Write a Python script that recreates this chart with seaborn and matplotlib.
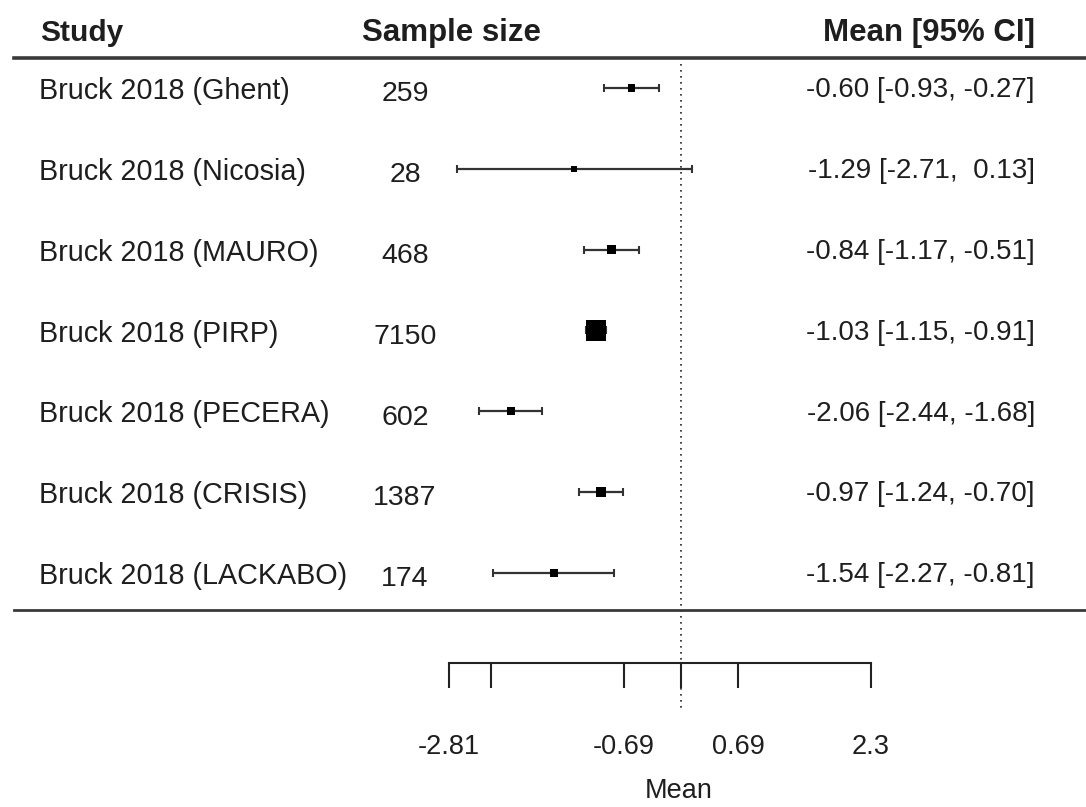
import numpy as np
import pandas as pd
import matplotlib
matplotlib.use("Agg")
import matplotlib.pyplot as plt
import matplotlib.transforms as mtrans
import seaborn as sns

# ---------------- data ----------------
studies = ["Bruck 2018 (Ghent)", "Bruck 2018 (Nicosia)", "Bruck 2018 (MAURO)",
           "Bruck 2018 (PIRP)", "Bruck 2018 (PECERA)", "Bruck 2018 (CRISIS)",
           "Bruck 2018 (LACKABO)"]
sample_size = [259, 28, 468, 7150, 602, 1387, 174]
mean = [-0.60, -1.29, -0.84, -1.03, -2.06, -0.97, -1.54]
ci_low = [-0.93, -2.71, -1.17, -1.15, -2.44, -1.24, -2.27]
ci_high = [-0.27, 0.13, -0.51, -0.91, -1.68, -0.70, -0.81]
weight = [12, 8, 16, 100, 16, 20, 16]      # relative box weight
tick_values = [-2.81, -2.3, -0.69, 0, 0.69, 2.3]
tick_labels = ["-2.81", "", "-0.69", "", "0.69", "2.3"]
headers = ["Study", "Sample size", "Mean [95% CI]"]

df = pd.DataFrame({"study": studies, "n": sample_size, "mean": mean,
                   "lo": ci_low, "hi": ci_high, "weight": weight})
df["row"] = np.arange(len(df))

# ---------------- figure ----------------
plt.rcParams["font.family"] = ["Liberation Sans", "DejaVu Sans"]
TXT = "#1e1e1e"
W, H = 1086, 807
fig = plt.figure(figsize=(W / 100, H / 100), dpi=100)
ax = fig.add_axes([0, 0, 1, 1])

# x: 82.6 px per unit, 0 at px 681 ; y: row i at px 88 + 80.8*i
ax.set_xlim(-681 / 82.6, (W - 681) / 82.6)
ax.set_ylim((H - 88) / 80.8, -88 / 80.8)

def r(py):
    return (py - 88) / 80.8

# reference line
ax.vlines(0, r(64), r(712), colors="#222222", linestyles=(0, (1, 2.6)), lw=1.2, zorder=1)

# confidence intervals
ax.errorbar(df["mean"], df["row"],
            xerr=[df["mean"] - df["lo"], df["hi"] - df["mean"]],
            fmt="none", ecolor="#333333", elinewidth=1.6, capsize=3.2, capthick=1.5, zorder=2)

# boxes
sns.scatterplot(data=df, x="mean", y="row", size="weight", sizes=(18, 225),
                size_norm=(8, 100), marker="s", color="black", linewidth=0,
                legend=False, ax=ax, zorder=3)

# rules
ax.axhline(r(58), xmin=14 / W, xmax=1, color="#3a3a3a", lw=2.6)
ax.axhline(r(610), xmin=14 / W, xmax=1, color="#3a3a3a", lw=2.0)

# x axis (R style)
for s in ["left", "right", "top"]:
    ax.spines[s].set_visible(False)
ax.spines["bottom"].set_position(("data", r(663)))
ax.spines["bottom"].set_bounds(tick_values[0], tick_values[-1])
ax.spines["bottom"].set_linewidth(1.5)
ax.spines["bottom"].set_color("#222222")
ax.set_xticks(tick_values, tick_labels)
ax.tick_params(axis="x", direction="out", length=18, width=1.5, color="#222222",
               pad=33, labelsize=19.5, labelcolor=TXT)
ax.set_yticks([])
ax.set_ylabel("")
ax.set_xlabel("Mean", fontsize=19.5, color=TXT)
ax.xaxis.set_label_coords(679 / W, 1 - 778 / H)

# text columns
tr = mtrans.blended_transform_factory(ax.transAxes, ax.transData)
hy = r(33)
ax.text(40 / W, hy, headers[0], transform=tr, ha="left", va="center",
        fontsize=21.5, fontweight="bold", color=TXT)
ax.text(452 / W, hy, headers[1], transform=tr, ha="center", va="center",
        fontsize=22.5, fontweight="bold", color=TXT)
ax.text(1035 / W, hy, headers[2], transform=tr, ha="right", va="center",
        fontsize=22.5, fontweight="bold", color=TXT)

for _, row in df.iterrows():
    y = row["row"]
    ax.text(39 / W, y + 0.04, row["study"], transform=tr, ha="left", va="center",
            fontsize=20.7, color=TXT)
    ax.text(405 / W, y + 0.08, f"{row['n']}", transform=tr, ha="center", va="center",
            fontsize=20.5, color=TXT)
    lo = f"{row['lo']:.2f}"
    hi = f"{row['hi']:.2f}"
    hi = hi if hi.startswith("-") else " " + hi
    ax.text(1035 / W, y + 0.03, f"{row['mean']:.2f} [{lo}, {hi}]", transform=tr,
            ha="right", va="center", fontsize=20, color=TXT)

fig.savefig("out.png", dpi=100, facecolor="white")
